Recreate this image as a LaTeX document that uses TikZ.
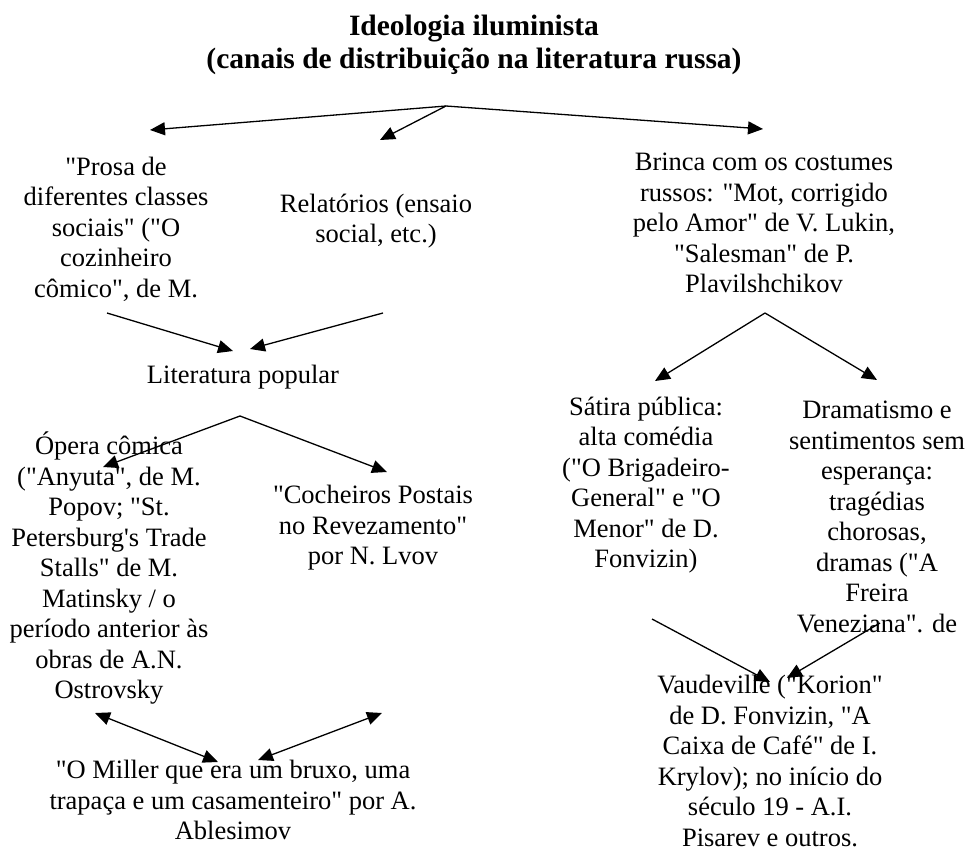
\documentclass[tikz,border=0pt]{standalone}
\usepackage{fontspec}
\setmainfont{Liberation Serif}[Ligatures=TeXOff]
\usetikzlibrary{arrows.meta,positioning}
\tikzset{
  txt/.style={align=center, inner sep=0pt, font=\fontsize{26.5}{30.5}\selectfont},
  ttl/.style={txt, font=\fontsize{29.5}{33}\selectfont\bfseries},
  arr/.style={-{Triangle[length=15pt,width=13pt]}, line width=1.3pt, draw=black},
  darr/.style={{Triangle[length=15pt,width=13pt]}-{Triangle[length=15pt,width=13pt]}, line width=1.3pt, draw=black},
}
\begin{document}
\begin{tikzpicture}[x=1pt, y=-1pt]
    \useasboundingbox (0,0) rectangle (967,848);
    \node[ttl] (titulo) at (474,45) {Ideologia iluminista\\(canais de distribuição na literatura russa)};
    \node[txt] (prosa) at (116,229) {"Prosa de\\diferentes classes\\sociais" ("O\\cozinheiro\\cômico", de M.};
    \node[txt] (relat) at (376,221) {Relatórios (ensaio\\social, etc.)};
    \node[txt] (brinca) at (764,223) {Brinca com os costumes\\russos: "Mot, corrigido\\pelo Amor" de V. Lukin,\\"Salesman" de P.\\Plavilshchikov};
    \node[txt] (litpop) at (243,377) {Literatura popular};
    \node[txt] (opera) at (109,568) {Ópera cômica\\("Anyuta", de M.\\Popov; "St.\\Petersburg's Trade\\Stalls" de M.\\Matinsky / o\\período anterior às\\obras de A.N.\\Ostrovsky};
    \node[txt] (cocheiros) at (373,528) {"Cocheiros Postais\\no Revezamento"\\por N. Lvov};
    \node[txt] (miller) at (233,800) {"O Miller que era um bruxo, uma\\trapaça e um casamenteiro" por A.\\Ablesimov};
    \node[txt] (satira) at (646,485) {Sátira pública:\\alta comédia\\("O Brigadeiro-\\General" e "O\\Menor" de D.\\Fonvizin)};
    \node[txt] (drama) at (877,517) {Dramatismo e\\sentimentos sem\\esperança:\\tragédias\\chorosas,\\dramas ("A\\Freira\\Veneziana". de};
    \node[txt] (vaud) at (770,761) {Vaudeville ("Korion"\\de D. Fonvizin, "A\\Caixa de Café" de I.\\Krylov); no início do\\século 19 - A.I.\\Pisarev e outros.};
    \coordinate (topo) at (446,106);
    \coordinate (prosa-in) at (150,130);
    \coordinate (relat-in) at (380,140);
    \coordinate (brinca-in) at (763,129);
    \coordinate (prosa-out) at (107,313);
    \coordinate (relat-out) at (383,313);
    \coordinate (litpop-in1) at (233,351);
    \coordinate (litpop-in2) at (250,349);
    \coordinate (litpop-out) at (240,416);
    \coordinate (opera-in) at (103,467);
    \coordinate (cocheiros-in) at (387,472);
    \coordinate (brinca-out) at (765,313);
    \coordinate (satira-in) at (655,381);
    \coordinate (drama-in) at (877,380);
    \coordinate (satira-out) at (652,619);
    \coordinate (drama-out) at (880,623);
    \coordinate (vaud-in1) at (770,682);
    \coordinate (vaud-in2) at (787,678);
    \coordinate (opera-out) at (95,713);
    \coordinate (cocheiros-out) at (382,713);
    \coordinate (miller-in1) at (218,762);
    \coordinate (miller-in2) at (258,760);
    \draw[arr] (topo) -- (prosa-in);
    \draw[arr] (topo) -- (relat-in);
    \draw[arr] (topo) -- (brinca-in);
    \draw[arr] (prosa-out) -- (litpop-in1);
    \draw[arr] (relat-out) -- (litpop-in2);
    \draw[arr] (litpop-out) -- (opera-in);
    \draw[arr] (litpop-out) -- (cocheiros-in);
    \draw[arr] (brinca-out) -- (satira-in);
    \draw[arr] (brinca-out) -- (drama-in);
    \draw[arr] (satira-out) -- (vaud-in1);
    \draw[arr] (drama-out) -- (vaud-in2);
    \draw[darr] (opera-out) -- (miller-in1);
    \draw[darr] (cocheiros-out) -- (miller-in2);
  \end{tikzpicture}
\end{document}
